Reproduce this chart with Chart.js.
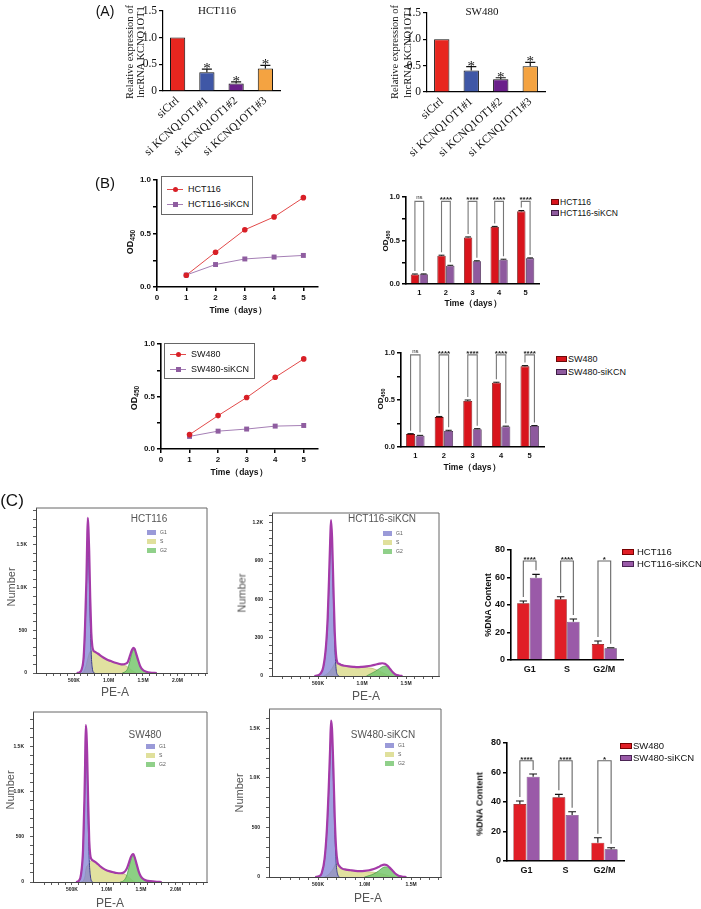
<!DOCTYPE html>
<html><head><meta charset="utf-8">
<script src="https://cdn.jsdelivr.net/npm/chart.js@4.4.1/dist/chart.umd.min.js"></script>
<style>
html,body{margin:0;padding:0;background:#fff;}
body{width:701px;height:909px;overflow:hidden;position:relative;}
.t{position:absolute;white-space:nowrap;line-height:1;z-index:5}
.sw{position:absolute;z-index:5}
</style></head><body>
<script>
// ================= DATA =================
// Panel A
const catsA = ['siCtrl','si KCNQ1OT1#1','si KCNQ1OT1#2','si KCNQ1OT1#3'];
const hctA = [1.0, 0.35, 0.14, 0.42];
const hctAErr = [0, 0.06, 0.03, 0.06];
const swA = [1.0, 0.41, 0.24, 0.49];
const swAErr = [0, 0.07, 0.03, 0.07];
const starsA = ['', '*', '*', '*'];
const ticksAVals = [0, 0.5, 1.0, 1.5];
const ticksALabels = ['0', '0.5', '1.0', '1.5'];
// Panel B
const days = [1, 2, 3, 4, 5];
const dayTicks = [0, 1, 2, 3, 4, 5];
const hctOD = [0.11, 0.325, 0.535, 0.655, 0.835];
const hctODErr = [0.005, 0.006, 0.006, 0.007, 0.01];
const hctSiOD = [0.112, 0.21, 0.262, 0.28, 0.295];
const hctSiODErr = [0.004, 0.005, 0.005, 0.005, 0.005];
const swOD = [0.137, 0.318, 0.49, 0.683, 0.858];
const swODErr = [0.005, 0.007, 0.01, 0.006, 0.008];
const swSiOD = [0.12, 0.17, 0.19, 0.218, 0.224];
const swSiODErr = [0.004, 0.008, 0.005, 0.004, 0.004];
const sigB = ['ns', '****', '****', '****', '****'];
const odTicks = [0, 0.25, 0.5, 0.75, 1.0];
const odMajor = [0, 0.5, 1.0];
const odLabels = ['0.0', '0.5', '1.0'];
// Panel C bars
const phases = ['G1', 'S', 'G2/M'];
const hctPct = [41.2, 44.1, 11.6];
const hctPctErr = [1.7, 1.9, 2.2];
const hctSiPct = [59.9, 27.9, 8.5];
const hctSiPctErr = [2.4, 1.9, 0.4];
const swPct = [38.6, 43.2, 12.4];
const swPctErr = [2.1, 2.0, 3.4];
const swSiPct = [57.2, 31.2, 7.9];
const swSiPctErr = [1.8, 2.2, 1.1];
const sigC = ['****', '****', '*'];
const pctTicks = [0, 20, 40, 60, 80];
// Panel C histograms (PE-A in K, counts)
const h1PE  = [540,580,610,640,660,680,690,700,710,720,735,750,765,780,800,850,900,950,1000,1050,1100,1150,1200,1250,1280,1310,1340,1360,1380,1400,1430,1460,1500,1550,1600,1700];
const h1Env = [0,8,40,190,550,1100,1510,1818,1680,1430,880,480,315,265,250,225,195,170,150,135,120,108,100,110,130,200,270,295,280,230,150,80,35,15,6,0];
const h1G1  = [0,8,40,175,500,1000,1370,1650,1480,1200,640,220,60,10,0,null,null,null,null,null,null,null,null,null,null,null,null,null,null,null,null,null,null,null,null,null];
const h1S   = [null,null,0,15,50,100,140,170,200,230,250,260,255,250,245,220,190,165,148,132,118,105,95,85,70,50,30,20,10,0,null,null,null,null,null,null];
const h1G2  = [null,null,null,null,null,null,null,null,null,null,null,null,null,null,null,null,null,null,null,null,null,null,0,20,55,140,235,272,268,228,148,78,33,12,5,0];

const h2PE  = [460,500,530,560,590,610,625,640,648,660,675,690,705,720,740,770,800,850,900,950,1000,1050,1100,1150,1200,1230,1260,1290,1320,1350,1380,1420,1460];
const h2Env = [0,5,20,70,230,460,760,1100,1220,1080,700,350,165,105,95,85,80,75,72,70,72,75,80,88,97,100,95,80,55,30,12,4,0];
const h2G1  = [0,5,20,68,220,440,730,1060,1170,1020,620,250,60,10,0,null,null,null,null,null,null,null,null,null,null,null,null,null,null,null,null,null,null];
const h2S   = [null,null,null,0,10,20,30,40,50,60,80,100,105,95,95,85,80,75,72,70,68,66,62,52,38,28,18,8,0,null,null,null,null];
const h2G2  = [null,null,null,null,null,null,null,null,null,null,null,null,null,null,null,null,null,null,null,null,null,0,18,36,59,72,77,72,55,30,12,4,0];

const h3PE  = [560,600,630,660,680,690,700,710,720,735,750,765,780,800,850,900,950,1000,1050,1100,1150,1200,1250,1290,1320,1350,1370,1390,1410,1440,1470,1500,1550,1600,1700,1800];
const h3Env = [0,15,80,350,900,1300,1736,1650,1420,880,460,300,255,240,215,180,150,130,118,108,100,97,105,140,200,270,300,308,270,190,110,60,25,12,5,0];
const h3G1  = [0,15,78,340,860,1230,1600,1480,1240,690,250,80,15,0,null,null,null,null,null,null,null,null,null,null,null,null,null,null,null,null,null,null,null,null,null,null];
const h3S   = [null,null,0,10,40,70,130,165,180,190,210,220,240,240,215,180,150,130,118,108,100,95,90,75,55,35,20,10,0,null,null,null,null,null,null,null];
const h3G2  = [null,null,null,null,null,null,null,null,null,null,null,null,null,null,null,null,null,null,null,null,null,0,15,65,145,235,280,298,270,190,110,60,25,12,5,0];

const h4PE  = [470,510,540,570,595,615,630,640,650,665,680,695,710,730,760,800,850,900,950,1000,1050,1100,1150,1180,1210,1240,1270,1300,1330,1360,1400,1450];
const h4Env = [0,8,40,180,480,900,1300,1578,1500,1100,600,280,150,110,85,75,68,62,60,62,68,80,100,115,125,120,95,65,35,15,5,0];
const h4G1  = [0,8,40,175,465,870,1250,1500,1430,1010,480,140,30,0,null,null,null,null,null,null,null,null,null,null,null,null,null,null,null,null,null,null];
const h4S   = [null,null,null,0,12,25,40,55,65,85,115,135,120,108,85,75,68,62,58,55,52,48,40,32,25,18,10,5,0,null,null,null];
const h4G2  = [null,null,null,null,null,null,null,null,null,null,null,null,null,null,null,null,null,null,null,0,14,32,60,83,100,102,85,60,35,15,5,0];

const peMajor = [500, 1000, 1500, 2000];
const peLabels = ['500K', '1.0M', '1.5M', '2.0M'];
const cntMajorK = [0, 500, 1000, 1500];
const cntLabelsK = ['0', '500', '1.0K', '1.5K'];
const cntMajor3 = [0, 300, 600, 900, 1200];
const cntLabels3 = ['0', '300', '600', '900', '1.2K'];

// ================= HELPERS =================
const fSans = "'Liberation Sans', Arial, Helvetica, sans-serif";
const fSerif = "'Liberation Serif', 'Times New Roman', serif";
Chart.defaults.font.family = fSans;
Chart.defaults.color = '#111';
Chart.defaults.animation = false;
Chart.defaults.plugins.legend.display = false;
Chart.defaults.plugins.tooltip.enabled = false;

function setTicks(values) { return s => { s.ticks = values.map(v => ({ value: v })); }; }
function lab(majors, labels) {
  return v => { const i = majors.findIndex(m => Math.abs(m - v) < 1e-9); return i >= 0 ? labels[i] : ''; };
}
function steps(a, b, st) { const r = []; for (let v = a; v <= b + 1e-9; v += st) r.push(Math.round(v * 1000) / 1000); return r; }

const errorBars = {
  id: 'errorBars',
  afterDatasetsDraw(chart, args, o) {
    const ctx = chart.ctx, y = chart.scales.y;
    chart.data.datasets.forEach((ds, di) => {
      if (!ds.errors) return;
      const meta = chart.getDatasetMeta(di);
      meta.data.forEach((bar, i) => {
        const e = ds.errors[i]; if (!e) return;
        const v = ds.data[i];
        const yt = y.getPixelForValue(v + e), yv = y.getPixelForValue(v);
        const hw = bar.width * (o.cap || 0.3);
        ctx.save(); ctx.strokeStyle = ds.errColor || '#111'; ctx.lineWidth = o.lw || 1;
        ctx.beginPath(); ctx.moveTo(bar.x, yv); ctx.lineTo(bar.x, yt);
        ctx.moveTo(bar.x - hw, yt); ctx.lineTo(bar.x + hw, yt); ctx.stroke(); ctx.restore();
      });
    });
  }
};
const stars = {
  id: 'stars',
  afterDatasetsDraw(chart, args, o) {
    if (!o || !o.labels) return;
    const ds = chart.data.datasets[0], meta = chart.getDatasetMeta(0), y = chart.scales.y, ctx = chart.ctx;
    ctx.save(); ctx.font = o.font; ctx.fillStyle = '#111'; ctx.textAlign = 'center'; ctx.textBaseline = 'alphabetic';
    o.labels.forEach((l, i) => {
      if (!l) return;
      const v = ds.data[i] + (ds.errors ? ds.errors[i] : 0);
      ctx.fillText(l, meta.data[i].x, y.getPixelForValue(v) + o.dy);
    });
    ctx.restore();
  }
};
const sig = {
  id: 'sig',
  afterDatasetsDraw(chart, args, o) {
    if (!o || !o.labels) return;
    const ctx = chart.ctx, y = chart.scales.y;
    const m0 = chart.getDatasetMeta(0), m1 = chart.getDatasetMeta(1);
    const d0 = chart.data.datasets[0], d1 = chart.data.datasets[1];
    ctx.save();
    o.labels.forEach((l, i) => {
      const x0 = m0.data[i].x, x1 = m1.data[i].x;
      const b0 = y.getPixelForValue(d0.data[i] + (d0.errors ? d0.errors[i] : 0)) - o.gap;
      const b1 = y.getPixelForValue(d1.data[i] + (d1.errors ? d1.errors[i] : 0)) - o.gap;
      const top = y.getPixelForValue(o.top);
      ctx.strokeStyle = o.color; ctx.lineWidth = o.lw;
      ctx.beginPath(); ctx.moveTo(x0, b0); ctx.lineTo(x0, top); ctx.lineTo(x1, top); ctx.lineTo(x1, b1); ctx.stroke();
      ctx.fillStyle = '#222'; ctx.textAlign = 'center'; ctx.textBaseline = 'alphabetic';
      ctx.font = (l === 'ns' ? o.nsFont : o.font);
      ctx.fillText(l, (x0 + x1) / 2, top - o.lift + (l.indexOf('*') >= 0 ? o.starDy : 0));
    });
    ctx.restore();
  }
};
const frame = {
  id: 'frame',
  afterDraw(chart, args, o) {
    if (!o || !o.on) return;
    const { left, top, right, bottom } = chart.chartArea, ctx = chart.ctx;
    ctx.save(); ctx.strokeStyle = o.color; ctx.lineWidth = o.lw;
    ctx.beginPath(); ctx.moveTo(left, top); ctx.lineTo(right, top); ctx.lineTo(right, bottom); ctx.stroke(); ctx.restore();
  }
};

function makeChart(area, m, cfg) {
  const lp = m.left || 0;
  const W = area.r - area.l + m.yW + m.right + lp;
  const H = area.b - area.t + m.top + m.xH;
  const cv = document.createElement('canvas');
  cv.width = W; cv.height = H;
  cv.style.cssText = `position:absolute;left:${area.l - m.yW - lp}px;top:${area.t - m.top}px;width:${W}px;height:${H}px;`;
  document.body.appendChild(cv);
  const o = cfg.options;
  o.responsive = false; o.maintainAspectRatio = false; o.devicePixelRatio = 1;
  o.layout = { padding: { left: lp, top: m.top, right: m.right, bottom: 0 } };
  o.scales.x.afterFit = s => { s.height = m.xH; };
  o.scales.y.afterFit = s => { s.width = m.yW; };
  return new Chart(cv, cfg);
}

// ---------- Panel A ----------
const colorsA = ['#e8261f', '#3f57a6', '#6a1f8a', '#f4a341'];
function chartA(area, vals, errs) {
  return makeChart(area, { yW: 43, xH: 66, top: 6, right: 6, left: 40 }, {
    type: 'bar',
    data: { labels: catsA, datasets: [{ data: vals, errors: errs, backgroundColor: colorsA, borderColor: '#111', borderWidth: 1, categoryPercentage: 1, barPercentage: 0.52 }] },
    options: {
      plugins: { errorBars: { lw: 1.2, cap: 0.33 }, stars: { labels: starsA, font: '15px ' + fSerif, dy: 4 } },
      scales: {
        x: { grid: { display: false, drawTicks: false }, border: { color: '#000', width: 1.2 },
             ticks: { font: { family: fSerif, size: 11.5 }, color: '#111', minRotation: 42, maxRotation: 42, padding: 3, autoSkip: false } },
        y: { min: 0, max: 1.5, afterBuildTicks: setTicks(ticksAVals),
             ticks: { font: { family: fSerif, size: 11.5 }, color: '#111', padding: 2, callback: lab(ticksAVals, ticksALabels) },
             grid: { drawOnChartArea: false, tickLength: 4, color: '#000', lineWidth: 1.2 }, border: { color: '#000', width: 1.2 } }
      }
    },
    plugins: [errorBars, stars]
  });
}
chartA({ l: 163, t: 8, r: 280, b: 91 }, hctA, hctAErr);
chartA({ l: 427, t: 10, r: 545, b: 92 }, swA, swAErr);

// ---------- Panel B ----------
const axB = { color: '#000', width: 1.6 };
const gridB = { drawOnChartArea: false, tickLength: 4, color: '#000', lineWidth: 1.5 };
const tickFontB = { size: 8, weight: 'bold' };
const tickFontBb = { size: 7.5, weight: 'bold' };
function lineB(area, a, b) {
  return makeChart(area, { yW: 30, xH: 20, top: 8, right: 8 }, {
    type: 'line',
    data: { datasets: [
      { data: days.map((d, i) => ({ x: d, y: a[i] })), borderColor: '#e24a4a', backgroundColor: '#d81f26', borderWidth: 1, pointRadius: 2.8, pointStyle: 'circle', pointBorderWidth: 0 },
      { data: days.map((d, i) => ({ x: d, y: b[i] })), borderColor: '#a57fb5', backgroundColor: '#8f5da0', borderWidth: 1, pointRadius: 3.5, pointStyle: 'rect', pointBorderWidth: 0 }
    ] },
    options: {
      scales: {
        x: { type: 'linear', min: 0, max: 5.5, afterBuildTicks: setTicks(dayTicks), ticks: { font: tickFontB, padding: 2, callback: v => String(v) }, grid: gridB, border: axB },
        y: { min: 0, max: 1, afterBuildTicks: setTicks(odTicks), ticks: { font: tickFontB, padding: 2, callback: lab(odMajor, odLabels) }, grid: gridB, border: axB }
      }
    }
  });
}
function barB(area, a, ae, b, be, sigTop) {
  return makeChart(area, { yW: 30, xH: 20, top: 16, right: 6 }, {
    type: 'bar',
    data: { labels: days, datasets: [
      { data: a, errors: ae, backgroundColor: '#d8141c', borderColor: '#6a0a0a', borderWidth: 0.8, categoryPercentage: 0.66, barPercentage: 0.95 },
      { data: b, errors: be, backgroundColor: '#8e5a9e', borderColor: '#3c1e44', borderWidth: 0.8, categoryPercentage: 0.66, barPercentage: 0.95 }
    ] },
    options: {
      plugins: { errorBars: { lw: 1, cap: 0.35 }, sig: { labels: sigB, top: sigTop, gap: 3, color: '#777', lw: 1.1, font: 'bold 8px ' + fSans, nsFont: '6px ' + fSans, lift: 2, starDy: 3 } },
      scales: {
        x: { grid: { display: false, drawTicks: false }, ticks: { font: tickFontBb, padding: 4 }, border: axB },
        y: { min: 0, max: 1, afterBuildTicks: setTicks(odTicks), ticks: { font: tickFontBb, padding: 2, callback: lab(odMajor, odLabels) }, grid: gridB, border: axB }
      }
    },
    plugins: [errorBars, sig]
  });
}
lineB({ l: 157, t: 180, r: 318, b: 287 }, hctOD, hctSiOD);
barB({ l: 406, t: 197, r: 539, b: 284 }, hctOD, hctODErr, hctSiOD, hctSiODErr, 0.95);
lineB({ l: 161, t: 344, r: 318, b: 449 }, swOD, swSiOD);
barB({ l: 401, t: 353, r: 544, b: 447 }, swOD, swODErr, swSiOD, swSiODErr, 0.98);

// ---------- Panel C histograms ----------
function hist(area, pe, env, g1, s, g2, xMin, xMax, yMax, yMaj, yLab, yMinor) {
  const pts = arr => pe.map((x, i) => ({ x: x, y: arr[i] }));
  const xt = steps(100, Math.floor(xMax / 100) * 100, 100);
  const yt = steps(0, Math.floor(yMax / yMinor) * yMinor, yMinor);
  const base = { pointRadius: 0, cubicInterpolationMode: 'monotone', spanGaps: false, fill: 'origin' };
  return makeChart(area, { yW: 30, xH: 14, top: 4, right: 4 }, {
    type: 'line',
    data: { datasets: [
      Object.assign({}, base, { data: pts(env), borderColor: '#a43aa8', borderWidth: 2.2, fill: false }),
      Object.assign({}, base, { data: pts(g2), borderColor: 'rgba(70,150,70,0.9)', borderWidth: 0.8, backgroundColor: 'rgba(120,200,110,0.85)' }),
      Object.assign({}, base, { data: pts(g1), borderColor: '#3c3c8c', borderWidth: 1, backgroundColor: 'rgba(125,125,210,0.72)' }),
      Object.assign({}, base, { data: pts(s), borderColor: 'rgba(170,170,90,0.9)', borderWidth: 0.6, backgroundColor: 'rgba(222,222,150,0.9)' })
    ] },
    options: {
      plugins: { frame: { on: true, color: '#666', lw: 1 } },
      scales: {
        x: { type: 'linear', min: xMin, max: xMax, afterBuildTicks: setTicks(xt),
             ticks: { autoSkip: false, maxRotation: 0, padding: 2, font: { size: 5, weight: 'bold' }, color: '#222', callback: lab(peMajor, peLabels) },
             grid: { drawOnChartArea: false, tickLength: 3, color: '#333', lineWidth: 0.8 }, border: { color: '#444', width: 1 } },
        y: { min: 0, max: yMax, afterBuildTicks: setTicks(yt),
             ticks: { autoSkip: false, padding: 6, font: { size: 5, weight: 'bold' }, color: '#222', callback: lab(yMaj, yLab) },
             grid: { drawOnChartArea: false, tickLength: 3, color: '#333', lineWidth: 0.8 }, border: { color: '#444', width: 1 } }
      }
    },
    plugins: [frame]
  });
}
hist({ l: 36, t: 503, r: 207, b: 673 }, h1PE, h1Env, h1G1, h1S, h1G2, -51, 2428, 1932, cntMajorK, cntLabelsK, 100);
hist({ l: 272, t: 508, r: 439, b: 676 }, h2PE, h2Env, h2G1, h2S, h2G2, -23, 1875, 1276, cntMajor3, cntLabels3, 60);
hist({ l: 33, t: 707, r: 207, b: 882 }, h3PE, h3Env, h3G1, h3S, h3G2, -65, 2457, 1882, cntMajorK, cntLabelsK, 100);
hist({ l: 269, t: 704, r: 441, b: 877 }, h4PE, h4Env, h4G1, h4S, h4G2, -27, 1822, 1696, cntMajorK, cntLabelsK, 100);

// ---------- Panel C bars ----------
const axC = { color: '#000', width: 1.6 };
const tickFontC = { size: 9, weight: 'bold' };
function barC(area, a, ae, b, be, sigTop) {
  return makeChart(area, { yW: 25, xH: 20, top: 10, right: 4 }, {
    type: 'bar',
    data: { labels: phases, datasets: [
      { data: a, errors: ae, backgroundColor: '#e01e26', borderColor: '#700', borderWidth: 0.6, categoryPercentage: 0.68, barPercentage: 0.98 },
      { data: b, errors: be, backgroundColor: '#9a5aa8', borderColor: '#4a2454', borderWidth: 0.6, categoryPercentage: 0.68, barPercentage: 0.98 }
    ] },
    options: {
      plugins: { errorBars: { lw: 1.1, cap: 0.3 }, sig: { labels: sigC, top: sigTop, gap: 4, color: '#666', lw: 1.1, font: 'bold 8px ' + fSans, nsFont: '6px ' + fSans, lift: 2, starDy: 3 } },
      scales: {
        x: { grid: { display: false, drawTicks: false }, ticks: { font: tickFontC, padding: 4 }, border: axC },
        y: { min: 0, max: 80, afterBuildTicks: setTicks(pctTicks), ticks: { font: tickFontC, padding: 2 }, grid: gridB, border: axC }
      }
    },
    plugins: [errorBars, sig]
  });
}
barC({ l: 511, t: 550, r: 623, b: 660 }, hctPct, hctPctErr, hctSiPct, hctSiPctErr, 72);
barC({ l: 507, t: 743, r: 624, b: 861 }, swPct, swPctErr, swSiPct, swSiPctErr, 68);

// ================= TEXT (HTML) =================
function T(html, x, y, css, rot) {
  const d = document.createElement('div');
  d.className = 't';
  d.innerHTML = html;
  d.style.cssText = `left:${x}px;top:${y}px;transform:translate(-50%,-50%)${rot ? ` rotate(${rot}deg)` : ''};` + (css || '');
  document.body.appendChild(d);
}
function L(html, x, y, css) {
  const d = document.createElement('div');
  d.className = 't';
  d.innerHTML = html;
  d.style.cssText = `left:${x}px;top:${y}px;transform:translate(0,-50%);` + (css || '');
  document.body.appendChild(d);
}
function box(x, y, w, h, css) {
  const d = document.createElement('div');
  d.className = 'sw';
  d.style.cssText = `left:${x}px;top:${y}px;width:${w}px;height:${h}px;` + css;
  document.body.appendChild(d);
}
const sans = `font-family:${fSans};`;
const serif = `font-family:${fSerif};`;

T('(A)', 105, 11, sans + 'font-size:14px;color:#111;');
T('(B)', 105, 182, sans + 'font-size:15px;color:#111;');
T('(C)', 12, 500, sans + 'font-size:17px;color:#111;');

T('HCT116', 217, 10, serif + 'font-size:11px;color:#111;');
T('SW480', 482, 11, serif + 'font-size:11px;color:#111;');
T('Relative expression of<br>lncRNA KCNQ1OT1', 134.5, 52, serif + 'font-size:10.5px;line-height:10.5px;text-align:center;color:#111;', -90);
T('Relative expression of<br>lncRNA KCNQ1OT1', 401, 52, serif + 'font-size:10.5px;line-height:12.5px;text-align:center;color:#111;', -90);

const odT = 'OD<sub style="font-size:6.5px;vertical-align:-2px">450</sub>';
const odTs = 'OD<sub style="font-size:5.5px;vertical-align:-2px">450</sub>';
const odCss = sans + 'font-size:9px;font-weight:bold;color:#111;';
const odCssS = sans + 'font-size:8px;font-weight:bold;color:#111;';
T(odT, 131, 242, odCss, -90);
T(odT, 135, 398, odCss, -90);
T(odTs, 387, 241, odCssS, -90);
T(odTs, 382, 399, odCssS, -90);
const timeCss = sans + "font-size:8.5px;font-weight:bold;color:#111;";
T('Time（days）', 238, 310, timeCss);
T('Time（days）', 239, 472, timeCss);
T('Time（days）', 473, 303, timeCss);
T('Time（days）', 472, 467, timeCss);

function lineLegend(x, y, w, h, rows) {
  box(x, y, w, h, 'border:1.4px solid #666;box-sizing:border-box;background:#fff;z-index:4;');
  rows.forEach(r => {
    box(x + 6, r.y - 0.5, 16, 1, `background:${r.line};`);
    if (r.shape === 'c') box(x + 11.5, r.y - 2.5, 5, 5, `background:${r.col};border-radius:50%;`);
    else box(x + 11.5, r.y - 2.5, 5, 5, `background:${r.col};`);
    L(r.text, x + 27, r.y, sans + 'font-size:9px;color:#111;');
  });
}
lineLegend(161, 176, 92, 39, [{ y: 189, text: 'HCT116', line: '#e24a4a', col: '#d81f26', shape: 'c' }, { y: 204, text: 'HCT116-siKCN', line: '#a57fb5', col: '#8f5da0', shape: 's' }]);
lineLegend(164, 343, 91, 36, [{ y: 354, text: 'SW480', line: '#e24a4a', col: '#d81f26', shape: 'c' }, { y: 369, text: 'SW480-siKCN', line: '#a57fb5', col: '#8f5da0', shape: 's' }]);

function barLegend(sx, tx, rows, sw, sh, fs) {
  rows.forEach(r => {
    box(sx, r.y - sh / 2, sw, sh, `background:${r.col};border:0.6px solid ${r.bd};box-sizing:border-box;`);
    L(r.text, tx, r.y, sans + `font-size:${fs}px;color:#111;`);
  });
}
barLegend(551, 560, [{ y: 202, text: 'HCT116', col: '#d8141c', bd: '#6a0a0a' }, { y: 213, text: 'HCT116-siKCN', col: '#8e5a9e', bd: '#3c1e44' }], 8, 6, 8.5);
barLegend(556, 568, [{ y: 359, text: 'SW480', col: '#d8141c', bd: '#6a0a0a' }, { y: 372, text: 'SW480-siKCN', col: '#8e5a9e', bd: '#3c1e44' }], 11, 6, 9);

const pctCss = sans + 'font-size:9px;font-weight:bold;color:#111;';
T('%DNA Content', 488, 605, pctCss, -90);
T('%DNA Content', 480, 804, pctCss, -90);
barLegend(622, 637, [{ y: 552, text: 'HCT116', col: '#e01e26', bd: '#700' }, { y: 564, text: 'HCT116-siKCN', col: '#9a5aa8', bd: '#4a2454' }], 12, 6, 9.5);
barLegend(620, 633, [{ y: 746, text: 'SW480', col: '#e01e26', bd: '#700' }, { y: 758, text: 'SW480-siKCN', col: '#9a5aa8', bd: '#4a2454' }], 12, 6, 9.5);

const grayCss = sans + 'color:#555;';
function histText(title, tx, ty, lx, ly, numX, numY, peX, peY) {
  T(title, tx, ty, grayCss + 'font-size:10px;');
  const cols = ['#9a9ad8', '#e0e09c', '#90d08a'];
  ['G1', 'S', 'G2'].forEach((g, i) => {
    box(lx, ly + i * 9 - 2.5, 9, 5, `background:${cols[i]};`);
    L(g, lx + 13, ly + i * 9, grayCss + 'font-size:5px;');
  });
  T('Number', numX, numY, grayCss + 'font-size:11px;', -90);
  T('PE-A', peX, peY, grayCss + 'font-size:12px;');
}
histText('HCT116', 149, 519, 147, 532, 11, 587, 115, 692);
histText('HCT116-siKCN', 382, 519, 383, 533, 242, 593, 366, 696);
histText('SW480', 145, 735, 146, 746, 10, 790, 110, 903);
histText('SW480-siKCN', 383, 735, 385, 745, 239, 793, 368, 898);
</script>
</body></html>
